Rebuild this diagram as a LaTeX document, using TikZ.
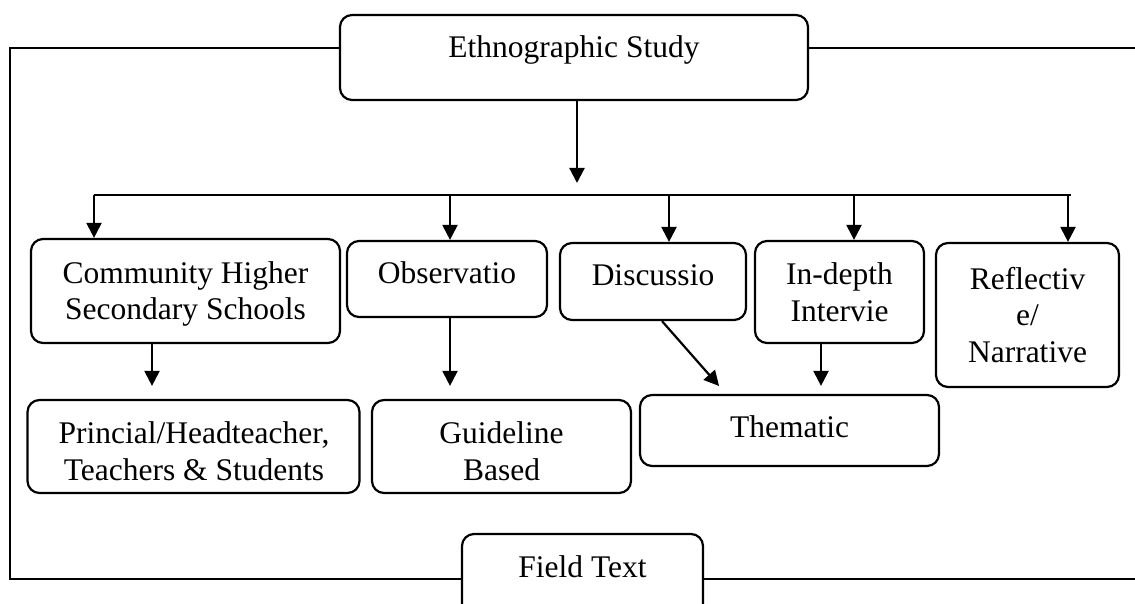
\documentclass[tikz,border=0pt]{standalone}
\usepackage{fontspec}
\setmainfont{Liberation Serif}
\usetikzlibrary{arrows.meta}
\begin{document}
\begin{tikzpicture}[x=1pt,y=-1pt,
  box/.style={draw=black, line width=2.2pt, rounded corners=12pt, inner sep=0pt, rectangle},
  lbl/.style={font=\fontsize{31.5}{36.5}\selectfont, align=center, anchor=base, inner sep=0pt},
  ln/.style={line width=2.2pt},
  arr/.style={line width=2.2pt, -{Triangle[length=15pt,width=15pt]}}]
\useasboundingbox (0,0) rectangle (1135,604);

% boxes
\node[box, minimum width=468pt, minimum height=85pt]  (eth)   at (574,57.5)   {};
\node[box, minimum width=309pt, minimum height=104pt] (comm)  at (185.5,291)  {};
\node[box, minimum width=200pt, minimum height=76pt]  (obs)   at (447,279)    {};
\node[box, minimum width=186pt, minimum height=77pt]  (disc)  at (653,281.5)  {};
\node[box, minimum width=169pt, minimum height=102pt] (indep) at (839.5,292)  {};
\node[box, minimum width=183pt, minimum height=144pt] (refl)  at (1027.5,315) {};
\node[box, minimum width=332pt, minimum height=93pt]  (princ) at (193.5,446.5) {};
\node[box, minimum width=259pt, minimum height=93pt]  (guide) at (501.5,446.5) {};
\node[box, minimum width=299pt, minimum height=71pt]  (them)  at (789.5,430.5) {};
\node[box, minimum width=241pt, minimum height=90pt]  (fld)   at (582.5,579)  {};

% labels (base anchor = baseline of the last line)
\node[lbl] (eth-t)   at (574,58)    {Ethnographic Study};
\node[lbl] (comm-t)  at (185.5,319.5) {Community Higher\\Secondary Schools};
\node[lbl] (obs-t)   at (447,283)   {Observatio};
\node[lbl] (disc-t)  at (653,285)   {Discussio};
\node[lbl] (indep-t) at (839.5,321) {In-depth\\Intervie};
\node[lbl] (refl-t)  at (1027.5,362) {Reflectiv\\e/\\Narrative};
\node[lbl] (them-t)  at (789.5,437) {Thematic};
\node[lbl] (fld-t)   at (582.5,577) {Field Text};
\begin{scope}
  \clip (0,0) rectangle (1135,482);
  \node[lbl] (princ-t) at (194,480) {Princial/Headteacher,\\Teachers \& Students};
  \node[lbl] (guide-t) at (501.5,480) {Guideline\\Based};
\end{scope}

% frame lines
\draw[ln] (eth.west |- 0,48) -- (10,48) -- (10,579) -- (fld.west);
\draw[ln] (eth.east |- 0,48) -- (1135,48);
\draw[ln] (fld.east) -- (1135,579);

% main arrow and branch
\coordinate (mtip) at (577,183);
\draw[arr] (577,0 |- eth.south) -- (mtip);
\coordinate (b1) at (94,195);
\coordinate (b2) at (450,195);
\coordinate (b3) at (669,195);
\coordinate (b4) at (854,195);
\coordinate (b5) at (1068,195);
\coordinate (bend) at (1071,195);
\draw[ln] (b1) -- (bend);
\draw[arr] (b1) -- (b1 |- comm.north);
\draw[arr] (b2) -- (b2 |- obs.north);
\draw[arr] (b3) -- (b3 |- disc.north);
\draw[arr] (b4) -- (b4 |- indep.north);
\draw[arr] (b5) -- (b5 |- refl.north);

% lower arrows
\draw[arr, shorten >=13pt] (152,0 |- comm.south) -- (152,0 |- princ.north);
\draw[arr, shorten >=13pt] (450,0 |- obs.south) -- (450,0 |- guide.north);
\draw[arr, shorten >=10.5pt] (662,0 |- disc.south) -- (726,0 |- them.north);
\draw[arr, shorten >=8pt] (821,0 |- indep.south) -- (821,0 |- them.north);
\end{tikzpicture}
\end{document}
